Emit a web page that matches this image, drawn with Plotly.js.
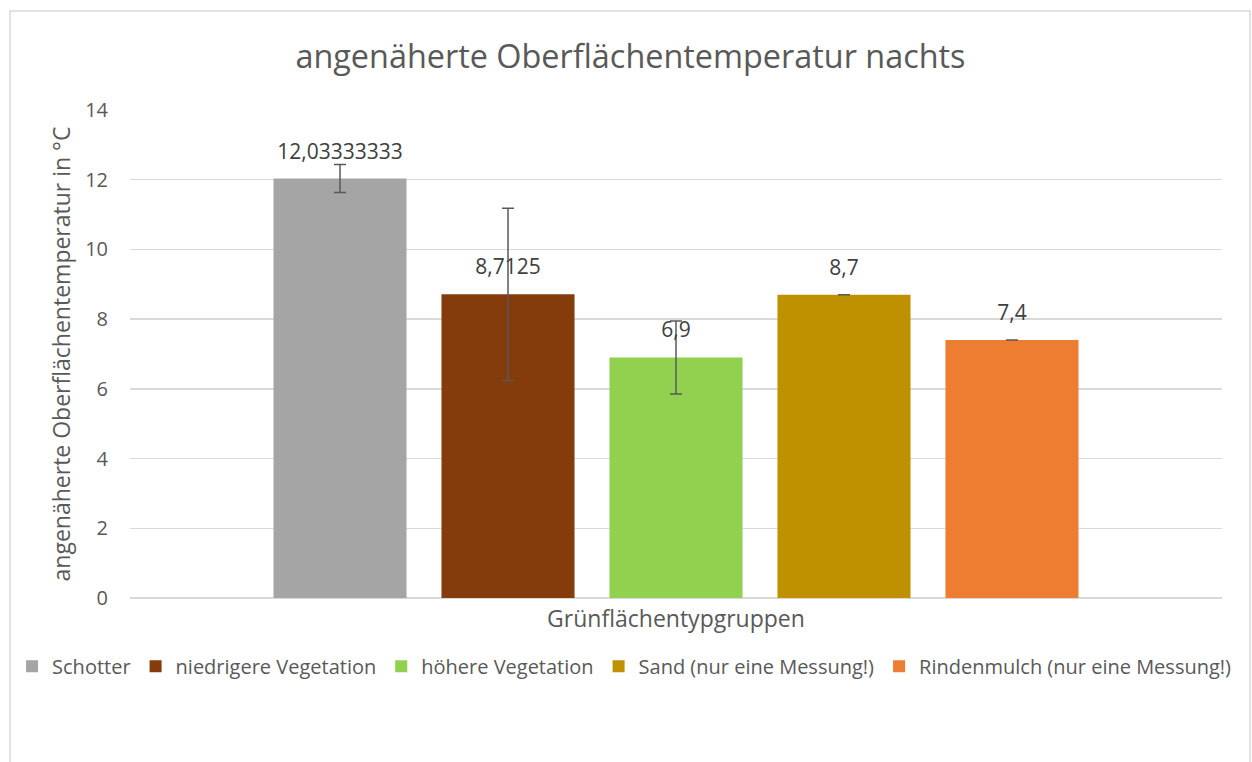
<!DOCTYPE html>
<html>
<head>
<meta charset="utf-8">
<script src="https://cdn.plot.ly/plotly-3.0.1.min.js"></script>
<style>html,body{margin:0;padding:0;background:#fff;}#chart{width:1252px;height:762px;}</style>
</head>
<body>
<div id="chart"></div>
<script>
// ---- data ----
const seriesNames = ["Schotter", "niedrigere Vegetation", "höhere Vegetation", "Sand (nur eine Messung!)", "Rindenmulch (nur eine Messung!)"];
const seriesValues = [12.03333333, 8.7125, 6.9, 8.7, 7.4];
const seriesErrors = [0.4, 2.47, 1.05, 0, 0];
const seriesColors = ["#A5A5A5", "#843C0C", "#92D050", "#BF9000", "#ED7D31"];
const category = [""];
const yTicks = [0, 2, 4, 6, 8, 10, 12, 14];

const txt = "#595959";
const font = "Open Sans, sans-serif";
const fmt = v => String(v).replace(".", ",");

const barTraces = seriesNames.map((name, i) => ({
  type: "bar",
  name: name,
  x: category,
  y: [seriesValues[i]],
  offsetgroup: "g" + i,
  marker: {color: seriesColors[i]},
  error_y: {type: "data", array: [seriesErrors[i]], visible: true, color: "#595959", thickness: 1.5, width: 6},
  hoverinfo: "none"
}));

const labelTraces = seriesNames.map((name, i) => ({
  type: "scatter",
  mode: "markers+text",
  name: name,
  showlegend: false,
  x: category,
  y: [seriesValues[i]],
  offsetgroup: "g" + i,
  text: [fmt(seriesValues[i])],
  textposition: "top center",
  textfont: {family: font, size: 21, color: "#404040"},
  marker: {size: 22, opacity: 0, color: "#fff"},
  cliponaxis: false,
  hoverinfo: "none"
}));

const layout = {
  width: 1252, height: 762, autosize: false,
  paper_bgcolor: "#fff", plot_bgcolor: "#fff",
  margin: {l: 130, r: 30, t: 110, b: 164},
  font: {family: font, color: txt},
  title: {text: "angenäherte Oberflächentemperatur nachts", font: {family: font, size: 32.4, color: txt}, x: 0.5036, xanchor: "center", y: 0.925, yanchor: "middle"},
  barmode: "group",
  bargap: 0.2308,
  bargroupgap: 0.208,
  scattermode: "group",
  scattergap: 0.2308,
  xaxis: {
    showticklabels: false, ticks: "", showgrid: false, zeroline: false, showline: false,
    title: {text: "Grünflächentypgruppen", font: {family: font, size: 23, color: txt}, standoff: 12}
  },
  yaxis: {
    range: [0, 14], tickvals: yTicks, ticktext: yTicks.map(String),
    tickfont: {family: font, size: 20, color: txt},
    ticklabelstandoff: 21,
    gridcolor: "#D9D9D9", gridwidth: 1.5, zeroline: true, zerolinecolor: "#D9D9D9", zerolinewidth: 1.5,
    showline: false, ticks: "", ticklen: 0,
    title: {text: "angenäherte Oberflächentemperatur in °C", font: {family: font, size: 23, color: txt}, standoff: 8}
  },
  legend: {
    orientation: "h", x: -0.108, xanchor: "left", y: -0.14, yanchor: "middle",
    font: {family: font, size: 20, color: txt}, bgcolor: "rgba(0,0,0,0)", traceorder: "normal"
  },
  shapes: [{
    type: "rect", xref: "paper", yref: "paper",
    x0: (10 - 130) / 1092, x1: (1250 - 130) / 1092, y0: -0.5, y1: (598 - 11) / 488,
    line: {color: "#D9D9D9", width: 1.5}, fillcolor: "rgba(0,0,0,0)", layer: "below"
  }],
  showlegend: true
};

Plotly.newPlot("chart", barTraces.concat(labelTraces), layout, {displayModeBar: false, staticPlot: true});
</script>
</body>
</html>
